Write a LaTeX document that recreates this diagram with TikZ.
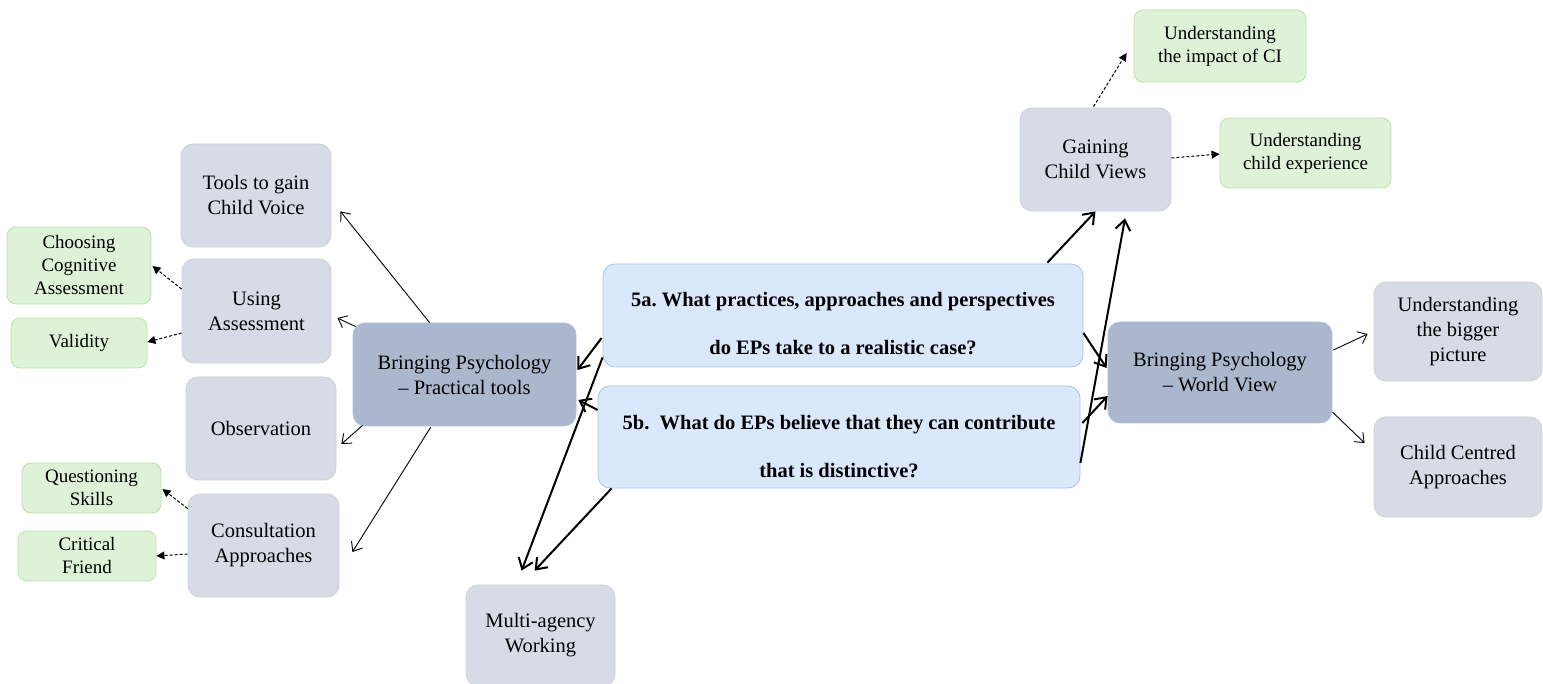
\documentclass[tikz,border=0pt]{standalone}
\usepackage{fontspec}
\setmainfont{Liberation Serif}
\usetikzlibrary{arrows.meta,calc}
\frenchspacing

\definecolor{greyfill}{HTML}{D6DBE5}
\definecolor{greyline}{HTML}{CDD1D9}
\definecolor{hubfill}{HTML}{ABB7CC}
\definecolor{hubline}{HTML}{A9C2E8}
\definecolor{qfill}{HTML}{DAE8FC}
\definecolor{qline}{HTML}{A9C4EB}
\definecolor{gfill}{HTML}{DEF2D8}
\definecolor{gline}{HTML}{B9E2A8}

\begin{document}
\begin{tikzpicture}[x=1pt,y=-1pt,
  box/.style={rounded corners=12pt, inner sep=0pt, align=center,
    line width=0.8pt, font=\fontsize{20.5}{25}\selectfont},
  topic/.style={box, fill=greyfill, draw=greyline},
  hub/.style={box, fill=hubfill, draw=hubline},
  question/.style={box, fill=qfill, draw=qline},
  qtext/.style={inner sep=0pt, align=center, font=\fontsize{20.5}{48}\selectfont\bfseries},
  detail/.style={box, rounded corners=9pt, fill=gfill, draw=gline,
    font=\fontsize{19}{23}\selectfont},
  thin/.style={-{Straight Barb[length=8pt,width=13pt]}, line width=0.9pt},
  heavy/.style={-{Straight Barb[length=10pt,width=15pt]}, line width=2pt},
  sub/.style={-{Triangle[length=8pt,width=8pt]}, line width=1pt,
    dash pattern=on 3pt off 2pt},
]
\useasboundingbox (0,0) rectangle (1543,684);

% left column: practical tools and their details
\node[topic, minimum width=150, minimum height=103] (tools) at (256,195.5) {Tools to gain\\Child Voice};
\node[topic, minimum width=149, minimum height=104] (using) at (256.5,311) {Using\\Assessment};
\node[topic, minimum width=150, minimum height=103] (obs) at (261,428.5) {Observation};
\node[topic, minimum width=151, minimum height=103] (consult) at (263.5,545.5) {Consultation\\Approaches};
\node[detail, minimum width=144, minimum height=77] (choose) at (79,265.5) {Choosing\\Cognitive\\Assessment};
\node[detail, minimum width=136, minimum height=50] (valid) at (79,343) {Validity};
\node[detail, minimum width=139, minimum height=50] (quest) at (91.5,488) {Questioning\\Skills};
\node[detail, minimum width=138, minimum height=50] (critic) at (87,556) {Critical\\Friend};
\node[hub, minimum width=223, minimum height=103] (pt) at (464.5,374.5) {Bringing Psychology\\– Practical tools};

% research questions
\node[question, minimum width=480, minimum height=103] (qa) at (843,315.5) {};
\node[qtext] (qa-text) at (843,324) {5a. What practices, approaches and perspectives\\do EPs take to a realistic case?};
\node[question, minimum width=482, minimum height=102] (qb) at (839,437) {};
\node[qtext] (qb-text) at (839,446.5) {5b.\ \ What do EPs believe that they can contribute\\that is distinctive?};

\node[topic, minimum width=149, minimum height=101] (multi) at (540.5,635.5) {Multi-agency\\Working};

% right side: child views and world view
\node[topic, minimum width=151, minimum height=103] (gain) at (1095.5,159.5) {Gaining\\Child Views};
\node[detail, minimum width=172, minimum height=72] (impact) at (1220,46) {Understanding\\the impact of CI};
\node[detail, minimum width=171, minimum height=70] (exper) at (1305.5,153) {Understanding\\child experience};
\node[hub, minimum width=224, minimum height=101] (wv) at (1220,372.5) {Bringing Psychology\\– World View};
\node[topic, minimum width=168, minimum height=99] (big) at (1458,331.5) {Understanding\\the bigger\\picture};
\node[topic, minimum width=168, minimum height=100] (cc) at (1458,467) {Child Centred\\Approaches};

% practical tools branches
\draw[thin] ($(pt.north west)+(77,0)$) -- ($(tools.south east)+(9,-36)$);
\draw[thin] ($(pt.north west)+(3,4)$) -- ($(using.east)+(6,7)$);
\draw[thin] ($(pt.south west)+(10,-1)$) -- ($(obs.east)+(5,15.5)$);
\draw[thin] ($(pt.south west)+(78,1)$) -- ($(consult.east)+(13,6.5)$);

% detail links
\draw[sub] ($(using.west)+(0,-22)$) -- ($(choose.east)+(1,0.5)$);
\draw[sub] ($(using.west)+(0,22)$) -- ($(valid.east)+(0,-1)$);
\draw[sub] ($(consult.west)+(0,-37)$) -- ($(quest.east)+(1,1)$);
\draw[sub] ($(consult.west)+(0,8.5)$) -- (critic.east);
\draw[sub] ($(gain.north)+(-2,-1)$) -- ($(impact.west)+(-7,7)$);
\draw[sub] ($(gain.east)+(0,-1.5)$) -- ($(exper.west)+(0,1)$);

% research questions to themes
\draw[heavy] ($(qa.west)+(-1,22.5)$) -- ($(pt.east)+(1,-4.5)$);
\draw[heavy] ($(qb.west)+(0,-27)$) -- ($(pt.east)+(2,25.5)$);
\draw[heavy] ($(qa.south west)+(0,-10)$) -- ($(multi.north west)+(56,-14)$);
\draw[heavy] ($(qb.south west)+(14,0)$) -- ($(multi.north west)+(69,-14)$);
\draw[heavy] ($(qa.north east)+(-36,-1)$) -- (gain.south);
\draw[heavy] ($(qb.east)+(0,26)$) -- ($(gain.south)+(29.5,7)$);
\draw[heavy] ($(qa.east)+(0,17.5)$) -- ($(wv.west)+(-1,-4.5)$);
\draw[heavy] ($(qb.east)+(2,-14)$) -- ($(wv.west)+(0,23.5)$);

% world view branches
\draw[thin] ($(wv.east)+(1,-22.5)$) -- ($(big.west)+(-6,2.5)$);
\draw[thin] ($(wv.east)+(0,39.5)$) -- ($(cc.west)+(-9,-24)$);
\end{tikzpicture}
\end{document}
